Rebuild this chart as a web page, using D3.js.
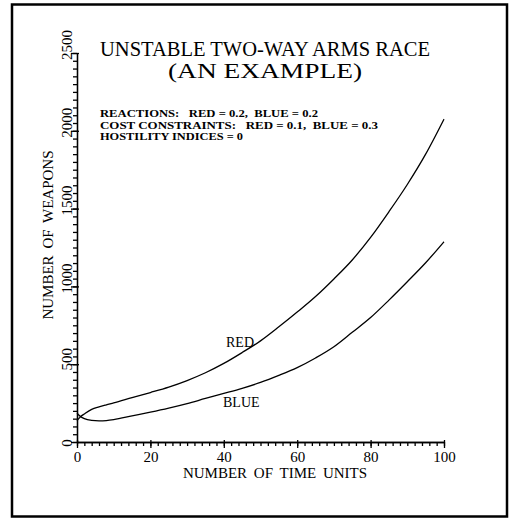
<!DOCTYPE html>
<html>
<head>
<meta charset="utf-8">
<script src="https://d3js.org/d3.v7.min.js"></script>
<style>
  body { margin: 0; background: #fff; }
  text { font-family: "Liberation Serif", "Times New Roman", serif; fill: #000; }
</style>
</head>
<body>
<svg id="chart" width="511" height="520"></svg>
<script>
// values
const time = [0, 1, 2, 4, 6, 8, 10, 15, 20, 25, 30, 35, 40, 45, 50, 55, 60, 65, 70, 75, 80, 85, 90, 95, 100];
const red  = [137, 163, 180, 210, 226, 239, 251, 285, 318, 353, 395, 445, 505, 575, 650, 740, 835, 935, 1048, 1170, 1315, 1480, 1655, 1850, 2075];
const blue = [185, 163, 150, 139, 136, 138, 144, 168, 192, 218, 247, 280, 312, 345, 383, 428, 478, 540, 612, 705, 800, 912, 1030, 1152, 1287];
const xTicks = [0, 20, 40, 60, 80, 100];
const yTicks = [0, 500, 1000, 1500, 2000, 2500];

const svg = d3.select("#chart");

// outer frame
svg.append("rect")
  .attr("x", 12).attr("y", 4.5)
  .attr("width", 495).attr("height", 512)
  .attr("fill", "none").attr("stroke", "#000").attr("stroke-width", 2.5);

const x = d3.scaleLinear().domain([0, 100]).range([77, 444]);
const y = d3.scaleLinear().domain([0, 2500]).range([442, 53]);

// x axis: minor ticks every 2, major every 20
const xMinor = svg.append("g").attr("transform", "translate(0,442)")
  .call(d3.axisBottom(x).tickValues(d3.range(0, 101, 2)).tickSize(4).tickSizeOuter(0).tickFormat(""));
const xMajor = svg.append("g").attr("transform", "translate(0,442)")
  .call(d3.axisBottom(x).tickValues(xTicks).tickSize(6).tickPadding(3).tickSizeOuter(0));
xMajor.selectAll(".tick line").attr("y1", -2);
xMajor.selectAll("text").style("font-size", "15px");

// y axis: minor every 50, labels drawn rotated
const yMinor = svg.append("g").attr("transform", "translate(77,0)")
  .call(d3.axisLeft(y).tickValues(d3.range(0, 2501, 50)).tickSize(4).tickSizeOuter(0).tickFormat(""));
const yMajor = svg.append("g").attr("transform", "translate(77,0)")
  .call(d3.axisLeft(y).tickValues(yTicks).tickSize(6).tickSizeOuter(0).tickFormat(""));
yMajor.selectAll(".tick line").attr("x1", 2);

svg.selectAll("path.domain, .tick line").attr("stroke", "#000").attr("stroke-width", 1.3);

svg.selectAll(".ylab")
  .data(yTicks)
  .enter().append("text")
  .attr("class", "ylab")
  .attr("transform", d => "translate(72," + (y(d) + 1 - 3 * (String(d).length - 1)) + ") rotate(-90)")
  .attr("text-anchor", "middle")
  .style("font-size", "15px")
  .text(d => d);

// curves
const line = d3.line()
  .x((d, i) => x(time[i]))
  .y(d => y(d))
  .curve(d3.curveMonotoneX);

[red, blue].forEach(s => {
  svg.append("path")
    .attr("d", line(s))
    .attr("fill", "none")
    .attr("stroke", "#000")
    .attr("stroke-width", 1.3);
});

svg.append("text").attr("x", 226).attr("y", 347).style("font-size", "14px").text("RED");
svg.append("text").attr("x", 223).attr("y", 407).style("font-size", "14px").text("BLUE");

// titles
svg.append("text").attr("x", 265).attr("y", 56)
  .attr("text-anchor", "middle").style("font-size", "21px")
  .attr("textLength", 330).attr("lengthAdjust", "spacingAndGlyphs")
  .text("UNSTABLE TWO-WAY ARMS RACE");
svg.append("text").attr("x", 265).attr("y", 78)
  .attr("text-anchor", "middle").style("font-size", "21px")
  .attr("textLength", 194).attr("lengthAdjust", "spacingAndGlyphs")
  .text("(AN EXAMPLE)");

const notes = [
  "REACTIONS:   RED = 0.2,  BLUE = 0.2",
  "COST CONSTRAINTS:   RED = 0.1,  BLUE = 0.3",
  "HOSTILITY INDICES = 0"
];
const noteWidths = [218, 278, 143];
svg.selectAll(".note")
  .data(notes)
  .enter().append("text")
  .attr("class", "note")
  .attr("x", 100)
  .attr("y", (d, i) => 117 + i * 11.6)
  .attr("textLength", (d, i) => noteWidths[i])
  .attr("lengthAdjust", "spacingAndGlyphs")
  .style("font-size", "10.4px")
  .style("font-weight", "bold")
  .style("white-space", "pre")
  .text(d => d);

// axis titles
svg.append("text").attr("x", 275).attr("y", 478)
  .attr("text-anchor", "middle").style("font-size", "15px")
  .style("word-spacing", "3px")
  .text("NUMBER OF TIME UNITS");
svg.append("text")
  .attr("transform", "translate(53,235) rotate(-90)")
  .attr("text-anchor", "middle").style("font-size", "15px")
  .style("word-spacing", "3px")
  .text("NUMBER OF WEAPONS");
</script>
</body>
</html>
